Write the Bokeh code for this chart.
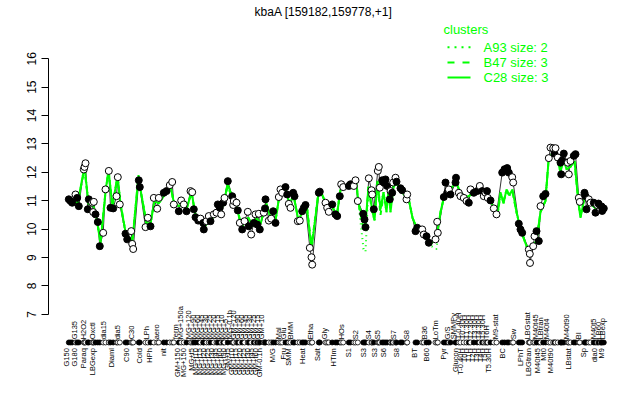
import math
from bokeh.plotting import figure
from bokeh.models import LinearAxis, FixedTicker, Range1d
from bokeh.embed import file_html
from bokeh.resources import INLINE
from bokeh.core.properties import value

title_text = "kbaA [159182,159778,+1]"

# position of each sample along the condition axis, its value and whether drawn filled
pos = [8.3, 10.0, 11.7, 15.0, 16.7, 18.3, 23.3, 24.0, 25.0, 27.3, 28.3, 31.7, 32.7, 33.3, 35.0, 37.3, 39.3,
       42.7, 45.0, 48.3, 50.0, 52.7, 56.0, 57.3, 59.3, 65.0, 66.7, 70.7, 71.7, 72.7, 78.3, 79.3, 85.0,
       87.3, 90.0, 93.3, 96.7, 98.3, 103.3, 106.0, 109.3, 111.7, 113.3, 118.3, 120.7, 123.3, 126.0, 130.0,
       131.7, 133.3, 135.0, 137.7, 140.0, 142.7, 143.3, 146.0, 148.3, 150.0, 153.3, 156.0, 157.3, 159.3,
       160.7, 162.7, 164.0, 167.3, 171.7, 172.7, 173.3, 176.0, 177.3, 179.3, 181.7, 184.0, 187.3, 188.3,
       190.7, 193.3, 195.0, 196.7, 198.3, 199.3, 203.3, 204.5, 205.0, 208.3, 210.7, 212.7, 215.0, 218.3,
       220.0, 221.7, 225.0, 226.7, 228.3, 230.0, 232.7, 234.0, 237.3, 239.3, 241.7, 243.3, 245.0, 249.3,
       251.0, 251.7, 258.3, 259.3, 265.0, 266.7, 268.3, 271.7, 275.0, 276.7, 279.3, 280.7, 282.7, 288.3,
       290.0, 293.3, 295.0, 297.3, 302.7, 304.0, 305.0, 308.3, 311.0, 311.7, 313.3, 317.3, 318.3, 319.3,
       321.7, 323.3, 325.0, 326.7, 329.3, 330.0, 331.7, 332.7, 335.0, 336.0, 340.0, 341.7, 346.0, 346.7,
       355.0, 356.7, 361.7, 363.3, 366.0, 368.3, 375.0, 376.7, 377.3, 383.3, 385.0, 386.7, 388.3, 390.0,
       395.0, 395.5, 398.3, 400.0, 403.3, 406.0, 408.3, 410.0, 413.3, 416.7, 419.3, 421.7, 423.3, 425.0,
       426.5, 427.3, 430.0, 433.3, 436.0, 441.7, 444.0, 446.7, 448.3, 451.7, 452.7, 458.3, 460.0, 461.7,
       468.3, 469.3, 469.5, 472.7, 474.0, 476.0, 478.3, 480.0, 482.7, 485.0, 488.3, 490.0, 492.7, 494.0,
       495.0, 497.3, 500.0, 500.7, 501.7, 503.3, 507.3, 508.3, 510.0, 513.3, 515.0, 518.3, 519.3, 524.0,
       525.0, 526.0, 528.3, 530.0, 533.3, 535.0, 536.7, 538.0, 540.0, 541.0, 541.7, 543.3]
vals = [11.05, 10.99, 10.93, 11.22, 11.10, 10.81, 12.10, 12.19, 12.32, 10.70, 11.05, 10.93, 10.60, 10.96, 10.52, 10.25, 9.40,
        9.87, 11.40, 12.05, 10.75, 10.73, 11.16, 11.83, 10.87, 9.84, 9.64, 9.93, 9.48, 9.30, 11.72, 11.48, 10.07,
        10.40, 10.10, 11.10, 10.72, 11.10, 11.28, 11.34, 11.55, 11.66, 10.87, 10.63, 11.01, 10.87, 10.63, 11.34,
        11.30, 10.70, 10.42, 10.30, 10.37, 10.22, 9.99, 10.28, 10.46, 10.28, 10.52, 10.58, 10.87, 10.75,
        10.52, 10.93, 11.10, 11.69, 11.16, 10.85, 10.99, 10.93, 10.66, 10.22, 9.99, 10.28, 10.61, 10.10,
        9.81, 10.22, 10.52, 10.16, 10.54, 9.99, 10.58, 10.73, 11.05, 10.30, 10.37, 10.63, 10.22, 11.13,
        11.40, 11.28, 11.48, 11.22, 10.89, 10.75, 11.28, 11.16, 10.28, 10.30, 10.63, 10.75, 10.85, 9.34,
        9.01, 8.75, 11.28, 11.32, 10.93, 10.75, 10.61, 10.87, 10.52, 10.46, 11.16, 11.58, 11.48, 11.52,
        11.58, 11.52, 11.72, 10.99, 10.54, 10.34, 10.07, 11.79, 11.37, 11.22, 10.70, 12.05, 12.19, 11.46,
        11.72, 11.64, 11.75, 11.52, 11.05, 11.34, 11.28, 11.64, 11.81, 11.67, 11.44, 11.37, 11.05, 11.22,
        9.93, 10.05, 9.99, 9.81, 9.75, 9.52, 9.64, 10.26, 9.87, 11.13, 11.64, 11.28, 11.40, 11.22,
        11.64, 11.81, 11.28, 11.16, 11.10, 10.99, 10.93, 11.40, 11.28, 11.34, 11.52, 11.34, 11.16, 11.28,
        11.34, 11.10, 11.01, 10.73, 10.52, 11.99, 12.11, 12.15, 11.99, 11.83, 11.64, 10.19, 9.99, 9.87,
        9.28, 9.13, 8.81, 9.40, 9.75, 9.93, 9.58, 10.81, 11.16, 11.24, 12.50, 12.87, 12.85, 12.66,
        12.85, 12.52, 12.34, 11.93, 12.42, 12.66, 12.34, 11.93, 12.40, 12.58, 12.64, 11.10, 10.96, 11.28,
        11.16, 10.70, 11.05, 10.93, 10.93, 10.58, 10.85, 10.90, 10.70, 10.80, 10.64, 10.73]
filled = [1, 1, 1, 0, 1, 1, 0, 0, 0, 1, 1, 0, 0, 0, 1, 1, 1,
          0, 0, 0, 1, 1, 0, 0, 0, 1, 1, 0, 0, 0, 1, 1, 0,
          0, 1, 0, 0, 0, 1, 1, 0, 0, 0, 1, 0, 0, 1, 0,
          0, 1, 1, 1, 0, 1, 1, 0, 0, 1, 0, 0, 1, 1,
          0, 1, 0, 1, 1, 0, 0, 0, 1, 0, 1, 0, 0, 1,
          0, 1, 0, 1, 0, 1, 0, 1, 1, 0, 0, 1, 1, 0,
          0, 0, 1, 1, 0, 0, 1, 1, 0, 0, 1, 1, 1, 0,
          0, 0, 1, 1, 0, 0, 0, 1, 1, 1, 1, 0, 0, 1,
          1, 0, 0, 0, 1, 1, 1, 0, 0, 0, 1, 0, 0, 0,
          1, 1, 1, 1, 1, 0, 1, 0, 0, 1, 1, 1, 0, 0,
          1, 1, 0, 0, 1, 1, 0, 0, 0, 1, 1, 1, 0, 1,
          1, 1, 0, 0, 0, 0, 1, 0, 1, 1, 0, 1, 0, 0,
          1, 0, 1, 0, 0, 1, 1, 1, 1, 0, 0, 1, 1, 1,
          0, 0, 0, 0, 0, 1, 1, 0, 1, 1, 0, 0, 0, 1,
          0, 0, 1, 1, 1, 1, 0, 0, 0, 1, 1, 0, 0, 1,
          1, 1, 0, 0, 1, 1, 0, 1, 0, 1, 1, 1]

# cluster profiles (green lines)
gpos = [6, 12, 17, 24, 28, 33, 36, 40, 45, 48, 52, 57, 60, 66, 72, 78, 80, 86, 90, 94, 98, 104, 110, 113,
        118, 122, 126, 131, 135, 140, 144, 150, 156, 160, 164, 167, 172, 177, 181, 184, 188, 192, 196, 200,
        204, 206, 210, 215, 219, 225, 229, 233, 238, 244, 246, 251, 258, 262, 267, 272, 276, 280, 285, 290,
        296, 298, 303, 305, 308, 312, 314, 317, 320, 323, 326, 328, 330, 333, 336, 340, 344, 348, 352, 357,
        362, 367, 371, 376, 380, 384, 388, 392, 396, 400, 405, 410, 415, 420, 426, 430, 434, 437, 440, 443,
        446, 449, 452, 456, 460, 464, 468, 472, 476, 480, 485, 488, 492, 496, 500, 503, 506, 510, 514, 518,
        520, 524, 530, 536, 544]
c28 = [11.0, 11.0, 10.9, 12.2, 10.9, 10.8, 10.4, 9.5, 11.3, 12.1, 10.8, 11.9, 10.9, 9.7, 9.6, 11.9, 11.4, 10.2, 10.2, 11.0, 10.9, 11.2, 11.5, 11.0,
       10.8, 10.9, 10.7, 11.3, 10.5, 10.3, 10.1, 10.3, 10.6, 10.6, 11.0, 11.6, 11.1, 10.7, 10.0, 10.3, 10.4, 10.1, 10.4, 10.2,
       10.7, 10.9, 10.4, 10.3, 11.2, 11.4, 10.9, 11.2, 10.3, 10.8, 10.9, 9.3, 11.3, 11.2, 10.7, 10.8, 10.4, 11.4, 11.5, 11.5,
       11.6, 10.9, 10.3, 10.2, 11.5, 10.6, 10.3, 11.7, 10.7, 11.3, 10.6, 11.4, 10.6, 11.5, 11.6, 11.4, 11.2, 11.1, 10.4, 10.0,
       9.9, 9.6, 9.5, 9.7, 10.6, 11.2, 11.3, 11.5, 11.6, 11.3, 11.1, 11.2, 11.3, 11.3, 11.2, 11.0, 10.7, 10.5, 11.3, 10.9,
       11.4, 11.2, 11.4, 10.6, 10.0, 9.6, 9.2, 9.4, 9.6, 10.6, 11.0, 12.4, 12.7, 12.6, 12.0, 12.5, 12.1, 12.2, 12.4, 10.9,
       10.4, 11.1, 10.9, 10.7, 10.7]
b47 = [11.0, 11.0, 10.9, 12.1, 10.9, 10.8, 10.4, 9.6, 11.3, 12.0, 10.8, 11.8, 10.9, 9.7, 9.7, 11.8, 11.4, 10.2, 10.2, 11.0, 10.9, 11.2, 11.5, 11.0,
       10.8, 10.9, 10.7, 11.3, 10.5, 10.3, 10.1, 10.3, 10.6, 10.6, 11.0, 11.5, 11.1, 10.7, 10.1, 10.3, 10.4, 10.1, 10.4, 10.2,
       10.7, 10.9, 10.4, 10.3, 11.2, 11.4, 10.9, 11.2, 10.3, 10.8, 10.9, 9.4, 11.3, 11.2, 10.7, 10.8, 10.4, 11.4, 11.5, 11.5,
       11.6, 10.9, 10.0, 10.0, 11.5, 10.5, 10.5, 11.6, 10.5, 11.2, 10.8, 11.3, 10.9, 11.5, 11.6, 11.4, 11.2, 11.1, 10.4, 10.0,
       9.9, 9.6, 9.6, 9.7, 10.6, 11.2, 11.3, 11.5, 11.6, 11.3, 11.1, 11.2, 11.3, 11.3, 11.2, 11.0, 10.7, 10.5, 11.2, 11.0,
       11.3, 11.2, 11.3, 10.6, 10.0, 9.6, 9.3, 9.4, 9.6, 10.6, 11.0, 12.4, 12.7, 12.6, 12.1, 12.4, 12.2, 12.2, 12.4, 10.9,
       10.5, 11.1, 10.9, 10.7, 10.7]
a93 = [11.0, 11.0, 10.9, 12.2, 10.9, 10.8, 10.4, 9.5, 11.3, 12.1, 10.8, 11.9, 10.9, 9.7, 9.6, 11.9, 11.4, 10.2, 10.2, 11.0, 10.9, 11.2, 11.5, 11.0,
       10.8, 10.9, 10.7, 11.3, 10.5, 10.3, 10.1, 10.3, 10.6, 10.6, 11.0, 11.6, 11.1, 10.7, 10.0, 10.3, 10.4, 10.1, 10.4, 10.2,
       10.7, 10.9, 10.4, 10.3, 11.2, 11.4, 10.9, 11.2, 10.3, 10.8, 10.9, 9.3, 11.3, 11.2, 10.7, 10.8, 10.4, 11.4, 11.5, 11.5,
       11.6, 10.9, 9.3, 9.2, 11.5, 10.6, 10.3, 11.7, 10.7, 11.3, 10.6, 11.4, 10.6, 11.5, 11.6, 11.4, 11.2, 11.1, 10.4, 10.0,
       9.9, 9.6, 9.4, 9.3, 10.6, 11.2, 11.3, 11.5, 11.6, 11.3, 11.1, 11.2, 11.3, 11.3, 11.2, 11.0, 10.7, 10.5, 11.3, 10.9,
       11.4, 11.2, 11.4, 10.6, 10.0, 9.6, 9.2, 9.4, 9.5, 10.6, 11.0, 12.4, 12.7, 12.6, 12.0, 12.5, 12.1, 12.2, 12.4, 10.9,
       10.4, 11.1, 10.9, 10.7, 10.7]

cluster_names = ["A93 size: 2", "B47 size: 3", "C28 size: 3"]

top_pos = [14, 23, 32, 43, 57, 71, 86, 96, 115, 120, 128,
           133, 137, 141, 145, 149, 153, 157, 161, 165, 169, 173, 177, 181, 185, 189, 193, 197, 201,
           218, 223, 230, 250, 264, 281, 295, 308, 317, 333, 346, 364, 375, 387, 393,
           398, 402, 406, 410, 414, 418, 422, 426,
           435, 453, 467, 475, 480, 486, 506, 518, 533, 538, 542]
top_labels = ["G135", "H2O2", "Oxctl", "dia15", "dia5", "C30", "LPh", "aero", "ferm", "MG+150a", "MG+120",
              "MG+90", "MG+60", "MG+45", "MG+30", "MG+25", "MG+20", "MG+15", "MG+10", "MG+5", "MG-0.1h",
              "GM+120", "GM+90", "GM+60", "GM+45", "GM+30", "GM+25", "GM+15", "GM+10",
              "Mal", "Glu", "BMM", "Etha", "Gly", "HOs", "S2", "S4", "S5", "S7", "S8", "B36", "LoTm", "G/S", "SMMPy",
              "T-0.40H", "T0.30H", "T1.30H", "T2.30H", "T3.30H", "T4.30H", "T5.30H", "T6H",
              "M9-stat", "Sw", "LBGstat", "M40t45", "LBtran", "M40t4", "M40t90", "BI", "M40t5", "LB60", "LBexp"]
bottom_pos = [6, 14, 23, 32, 51, 66, 79, 89, 103, 117, 123,
              131, 135, 139, 143, 147, 151, 155, 159, 163, 167, 171, 175, 179, 183, 187, 191, 195, 199,
              212, 223, 228, 242, 257, 273, 288, 303, 314, 323, 336, 354, 366, 383, 395,
              400, 404, 408, 412, 416, 420, 424, 428,
              442, 460, 468, 477, 483, 490, 508, 523, 534, 541]
bottom_labels = ["G150", "G180", "Paraq", "LBGexp", "Diaml", "C90", "Cold", "HPh", "nit", "GM+150", "MG+150",
                 "MG+t5", "MG+t10", "MG+t15", "MG+t20", "MG+t25", "MG+t30", "MG+t45", "MG+t60", "MG+t90",
                 "GM+t5", "GM+t10", "GM+t15", "GM+t20", "GM+t25", "GM+t30", "GM+t45", "GM+t60", "GM-0.1h",
                 "M/G", "Fru", "SMM", "Heat", "Salt", "HTIm", "S1", "S3", "S3", "S6", "S8", "BT", "B60", "Pyr", "Glucon",
                 "T-0.40H", "T0H", "T1H", "T2H", "T3H", "T4H", "T5H", "T5.30H",
                 "BC", "LPhT", "LBGtran", "M40t45", "Mt0", "M40t90", "LBstat", "Sp", "dia0", "M9"]

GREEN = "#00ff00"
FONT = "Liberation Sans"

p = figure(width=624, height=384, output_backend="svg", toolbar_location=None,
           x_range=Range1d(-12, 564), y_range=Range1d(4.53, 18.05),
           x_axis_location=None, y_axis_location=None,
           min_border_left=48, min_border_right=0, min_border_top=0, min_border_bottom=0)
p.outline_line_color = None
p.grid.visible = False
p.background_fill_color = "white"
p.border_fill_color = "white"

yaxis = LinearAxis(ticker=FixedTicker(ticks=list(range(7, 17))), bounds=(7, 16))
yaxis.major_label_orientation = "vertical"
yaxis.major_tick_out = 7
yaxis.major_tick_in = 0
yaxis.minor_tick_out = 0
yaxis.minor_tick_in = 0
yaxis.major_label_standoff = 5
yaxis.major_label_text_font = FONT
yaxis.major_label_text_font_size = "12px"
yaxis.major_label_text_color = "black"
yaxis.axis_line_color = "black"
yaxis.major_tick_line_color = "black"
p.add_layout(yaxis, "left")

# black profile line
p.line(pos, vals, line_color="black", line_width=0.8)

# cluster lines
p.line(gpos, c28, line_color=GREEN, line_width=2)
p.line(gpos, b47, line_color=GREEN, line_width=2, line_dash="5 4")
p.line(gpos, a93, line_color=GREEN, line_width=2, line_dash="1 4")

fills = ["black" if f else "white" for f in filled]
p.scatter(pos, vals, size=7, marker="circle", fill_color=fills, line_color="black", line_width=1)

# strip of condition markers
strip_y = 6.01
p.scatter(pos, [strip_y] * len(pos), size=5, marker="circle", fill_color=fills, line_color="black", line_width=0.8)

p.text(x=top_pos, y=[6.12] * len(top_pos), text=top_labels, angle=math.pi / 2,
       text_align="left", text_baseline="middle", text_font=value(FONT), text_font_size="7.5px",
       text_color="black")
p.text(x=bottom_pos, y=[5.81] * len(bottom_pos), text=bottom_labels, angle=math.pi / 2,
       text_align="right", text_baseline="middle", text_font=value(FONT), text_font_size="7.5px",
       text_color="black")

# title
p.text(x=[263], y=[17.63], text=[title_text], text_align="center", text_baseline="middle",
       text_font=value(FONT), text_font_size="12px", text_color="black")

# legend
p.text(x=[383], y=[17.03], text=["clusters"], text_align="left", text_baseline="middle",
       text_font=value(FONT), text_font_size="13px", text_color=GREEN)
leg_y = [16.40, 15.87, 15.34]
dashes = ["2 5", "7 8", "solid"]
for name, ly, d in zip(cluster_names, leg_y, dashes):
    p.line([387, 410], [ly, ly], line_color=GREEN, line_width=2, line_dash=d)
    p.text(x=[423], y=[ly], text=[name], text_align="left", text_baseline="middle",
           text_font=value(FONT), text_font_size="13px", text_color=GREEN)

open("out.html", "w").write(file_html(p, INLINE))
